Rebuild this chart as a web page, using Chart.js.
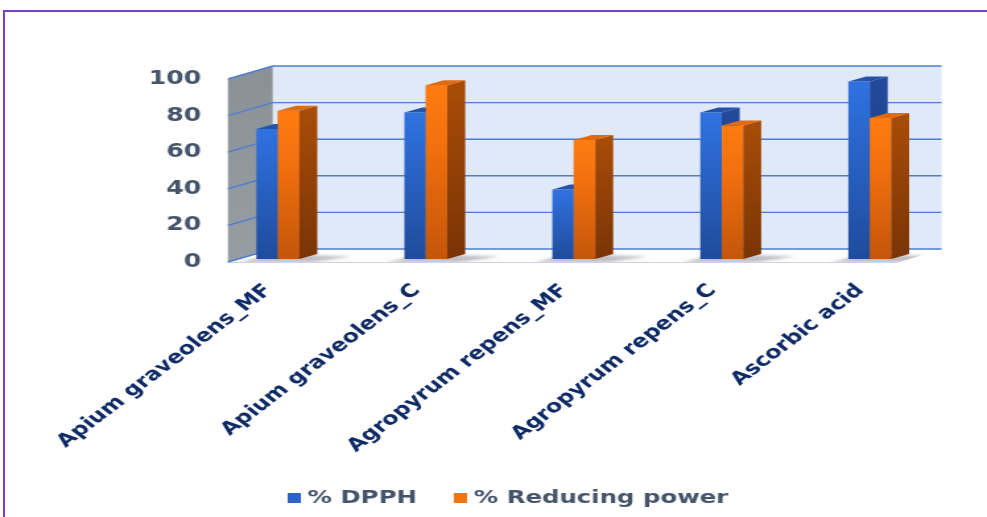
<!DOCTYPE html>
<html>
<head>
<meta charset="utf-8">
<script src="https://cdn.jsdelivr.net/npm/chart.js@4.4.1/dist/chart.umd.min.js"></script>
<style>
  html, body { margin: 0; padding: 0; background: #fff; width: 987px; height: 517px; overflow: hidden; }
  .edge { position: absolute; background: #7b3fc4; }
  #edgeTop { left: 3px; top: 10px; width: 984px; height: 2px; }
  #edgeLeft { left: 3px; top: 10px; width: 2px; height: 507px; }
  /* the chart is laid out on a narrower canvas and widened to the page width */
  #wrap { position: absolute; left: 0; top: 0; width: 748px; height: 517px;
          transform: scaleX(1.3195); transform-origin: 0 0; }
</style>
</head>
<body>
<div class="edge" id="edgeTop"></div>
<div class="edge" id="edgeLeft"></div>
<div id="wrap"><canvas id="chart" width="748" height="517"></canvas></div>
<script>
// Antioxidant activity of the extracts compared with ascorbic acid
const categories = ['Apium graveolens_MF', 'Apium graveolens_C', 'Agropyrum repens_MF', 'Agropyrum repens_C', 'Ascorbic acid'];
const dpph = [71, 80, 38, 80, 97];
const reducingPower = [81, 95, 65, 73, 77];
const seriesNames = ['% DPPH', '% Reducing power'];
const yMin = 0;
const yMax = 100;
const yStep = 20;

// depth of the plot box and of each bar (oblique projection)
const WALL_DX = 34, WALL_DY = -13;
const BAR_DX = 13.6, BAR_DY = -5;

const FONT = "'DejaVu Sans', Verdana, sans-serif";
Chart.defaults.font.family = FONT;

const palette = [
  { top: '#3072e2', bottom: '#1f4c9c', side: ['#23499a', '#1a3979'], cap: '#2552a8', key: '#2c62cc' },
  { top: '#ff7c12', mid: '#f2700e', bottom: '#c4560a', side: ['#a84c08', '#7a3406'], cap: '#e06a0e', key: '#f27410' }
];

function frontGradient(c, p) {
  const chart = c.chart;
  const ys = chart.scales.y;
  if (!ys || typeof c.raw !== 'number') return p.top;
  const yTop = ys.getPixelForValue(c.raw);
  const yBase = ys.getPixelForValue(0);
  if (!isFinite(yTop) || !isFinite(yBase) || yTop === yBase) return p.top;
  const g = chart.ctx.createLinearGradient(0, yTop, 0, yBase);
  g.addColorStop(0, p.top);
  if (p.mid) g.addColorStop(0.35, p.mid);
  g.addColorStop(1, p.bottom);
  return g;
}

function boxGeometry(chart) {
  const ca = chart.chartArea;
  const ys = chart.scales.y;
  const frontLeft = ca.left + 18.2;
  const backLeft = frontLeft + WALL_DX;
  const backRight = ca.right - 1.6;
  const frontRight = backRight - WALL_DX;
  const yF = v => ys.getPixelForValue(v) + 3;
  const yB = v => yF(v) + WALL_DY;
  return { frontLeft, backLeft, backRight, frontRight, yF, yB };
}

function poly(ctx, pts) {
  ctx.beginPath();
  ctx.moveTo(pts[0][0], pts[0][1]);
  for (let i = 1; i < pts.length; i++) ctx.lineTo(pts[i][0], pts[i][1]);
  ctx.closePath();
}

// side and top faces of one bar
function drawFaces(ctx, el, p) {
  const left = el.x - el.width / 2, right = el.x + el.width / 2;
  const top = el.y, base = el.base;
  const sg = ctx.createLinearGradient(0, top, 0, base);
  sg.addColorStop(0, p.side[0]);
  sg.addColorStop(1, p.side[1]);
  ctx.fillStyle = sg;
  poly(ctx, [[right, top], [right + BAR_DX, top + BAR_DY], [right + BAR_DX, base + BAR_DY], [right, base]]);
  ctx.fill();
  ctx.fillStyle = p.cap;
  poly(ctx, [[left, top], [right, top], [right + BAR_DX, top + BAR_DY], [left + BAR_DX, top + BAR_DY]]);
  ctx.fill();
}

const depthPlugin = {
  id: 'depth',
  beforeDatasetsDraw(chart) {
    const ctx = chart.ctx;
    const g = boxGeometry(chart);
    ctx.save();

    // back wall
    ctx.fillStyle = '#dfe9f7';
    ctx.fillRect(g.backLeft, g.yB(yMax), g.backRight - g.backLeft, g.yB(yMin) - g.yB(yMax));

    // side wall
    const wg = ctx.createLinearGradient(0, g.yF(yMax), 0, g.yF(yMin));
    wg.addColorStop(0, '#8a9298');
    wg.addColorStop(1, '#979ea3');
    ctx.fillStyle = wg;
    poly(ctx, [[g.frontLeft, g.yF(yMax)], [g.backLeft, g.yB(yMax)], [g.backLeft, g.yB(yMin)], [g.frontLeft, g.yF(yMin)]]);
    ctx.fill();

    // floor
    ctx.fillStyle = '#ffffff';
    poly(ctx, [[g.frontLeft, g.yF(yMin)], [g.frontRight, g.yF(yMin)], [g.backRight, g.yB(yMin)], [g.backLeft, g.yB(yMin)]]);
    ctx.fill();

    // soft shadows of the bar pairs on the floor
    const m0 = chart.getDatasetMeta(0).data;
    const m1 = chart.getDatasetMeta(1).data;
    ctx.save();
    poly(ctx, [[g.frontLeft, g.yF(yMin) + 1], [g.frontRight, g.yF(yMin) + 1], [g.backRight, g.yB(yMin)], [g.backLeft, g.yB(yMin)]]);
    ctx.clip();
    ctx.filter = 'blur(1.5px)';
    ctx.fillStyle = 'rgba(60,60,70,0.32)';
    for (let i = 0; i < m0.length; i++) {
      const a = m0[i], b = m1[i];
      const left = a.x - a.width / 2, right = b.x + b.width / 2, base = a.base;
      poly(ctx, [[left - 14, base + 3.5], [right + 8, base + 3.5], [right + BAR_DX + 26, base + BAR_DY + 2.5], [left + BAR_DX, base + BAR_DY]]);
      ctx.fill();
    }
    ctx.restore();

    // front edge of the floor
    ctx.strokeStyle = '#cdd3ef';
    ctx.lineWidth = 1.2;
    ctx.beginPath();
    ctx.moveTo(g.frontLeft, g.yF(yMin) + 0.5);
    ctx.lineTo(g.frontRight, g.yF(yMin) + 0.5);
    ctx.stroke();

    // gridlines on the back and side walls
    ctx.strokeStyle = '#4d7dd2';
    ctx.lineWidth = 1.4;
    for (let v = yMin; v <= yMax; v += yStep) {
      ctx.beginPath();
      ctx.moveTo(g.frontLeft, g.yF(v));
      ctx.lineTo(g.backLeft, g.yB(v));
      ctx.lineTo(g.backRight, g.yB(v));
      ctx.stroke();
    }
    ctx.restore();
  },
  afterDatasetsDraw(chart) {
    // per category: the left bar's faces, then the right bar in front of them
    const ctx = chart.ctx;
    const m0 = chart.getDatasetMeta(0).data;
    const m1 = chart.getDatasetMeta(1).data;
    ctx.save();
    for (let i = 0; i < m0.length; i++) {
      drawFaces(ctx, m0[i], palette[0]);
      m1[i].draw(ctx);
      drawFaces(ctx, m1[i], palette[1]);
    }
    ctx.restore();
  },
  afterDraw(chart) {
    // legend row under the category labels
    const ctx = chart.ctx;
    ctx.save();
    ctx.font = 'bold 18.5px ' + FONT;
    ctx.textBaseline = 'middle';
    const box = 10, gapText = 5, gapItem = 28, cy = 498.5, cx = 385;
    const widths = seriesNames.map(s => ctx.measureText(s).width);
    const total = widths.reduce((s, w) => s + box + gapText + w, 0) + gapItem * (seriesNames.length - 1);
    let x = cx - total / 2;
    seriesNames.forEach((name, i) => {
      ctx.fillStyle = palette[i].key;
      ctx.fillRect(x, cy - box / 2 - 0.5, box, box);
      x += box + gapText;
      ctx.fillStyle = '#44546a';
      ctx.fillText(name, x, cy);
      x += widths[i] + gapItem;
    });
    ctx.restore();
  }
};

new Chart(document.getElementById('chart'), {
  type: 'bar',
  data: {
    labels: categories,
    datasets: [
      { label: seriesNames[0], data: dpph,
        backgroundColor: c => frontGradient(c, palette[0]) },
      { label: seriesNames[1], data: reducingPower,
        backgroundColor: c => frontGradient(c, palette[1]) }
    ]
  },
  options: {
    responsive: false,
    devicePixelRatio: 1,
    animation: false,
    layout: { padding: { top: 76, right: 32.8, bottom: 0, left: 0 } },
    datasets: { bar: { categoryPercentage: 0.29, barPercentage: 1.0, borderWidth: 0 } },
    plugins: { legend: { display: false }, tooltip: { enabled: false } },
    scales: {
      x: {
        grid: { display: false, drawTicks: false },
        border: { display: false },
        ticks: {
          autoSkip: false, minRotation: 45, maxRotation: 45, padding: 21, labelOffset: -7,
          color: '#0e2a64', font: { family: FONT, weight: 'bold', size: 18 }
        },
        afterFit: s => { s.height = 258; }
      },
      y: {
        min: yMin, max: yMax,
        grid: { display: false, drawTicks: false },
        border: { display: false },
        ticks: {
          stepSize: yStep, padding: 2, labelOffset: 3,
          color: '#44546a', font: { family: FONT, weight: 'bold', size: 19 }
        },
        afterFit: s => { s.width = 154.5; }
      }
    }
  },
  plugins: [depthPlugin]
});
</script>
</body>
</html>
